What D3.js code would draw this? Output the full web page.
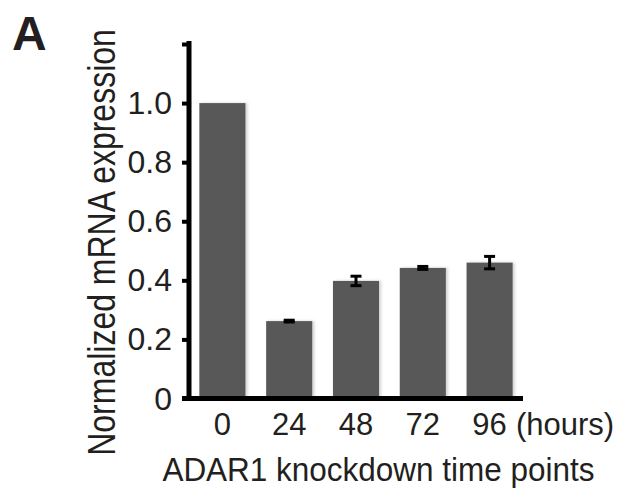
<!DOCTYPE html>
<html>
<head>
<meta charset="utf-8">
<script src="https://cdn.jsdelivr.net/npm/d3@7"></script>
<style>
  html, body { margin: 0; padding: 0; background: #fff; }
  svg text { font-family: "Liberation Sans", Arial, Helvetica, sans-serif; fill: #231f20; }
</style>
</head>
<body>
<div id="chart"></div>
<script>
// --- Data ---
const timePoints = ['0', '24', '48', '72', '96'];
const expression = [1.0, 0.262, 0.398, 0.442, 0.46];
const errors = [0, 0.003, 0.016, 0.005, 0.021];
const yTicks = [0, 0.2, 0.4, 0.6, 0.8, 1.0, 1.2];

const width = 624, height = 490;

const svg = d3.select('#chart').append('svg')
  .attr('width', width)
  .attr('height', height);

// subtle shadow behind bars
const defs = svg.append('defs');
const shadow = defs.append('filter').attr('id', 'bar-shadow')
  .attr('x', '-20%').attr('y', '-5%').attr('width', '140%').attr('height', '110%');
shadow.append('feDropShadow')
  .attr('dx', 2).attr('dy', 0).attr('stdDeviation', 1.5)
  .attr('flood-color', '#000').attr('flood-opacity', 0.18);

// --- Scales ---
const x = d3.scaleBand()
  .domain(timePoints)
  .range([189, 523])
  .paddingInner(0.31)
  .paddingOuter(0.155);

const y = d3.scaleLinear()
  .domain([0, 1.2])
  .range([398.5, 44]);

const data = timePoints.map((t, i) => ({ t, v: expression[i], e: errors[i] }));

// --- Bars ---
svg.append('g').selectAll('rect')
  .data(data)
  .enter().append('rect')
  .attr('x', d => x(d.t))
  .attr('y', d => y(d.v))
  .attr('width', x.bandwidth())
  .attr('height', d => y(0) - y(d.v))
  .attr('fill', '#595959')
  .attr('filter', 'url(#bar-shadow)');

// --- Error bars ---
const err = svg.append('g').selectAll('g')
  .data(data.filter(d => d.e > 0))
  .enter().append('g')
  .attr('stroke', '#000')
  .attr('stroke-width', 3);

err.append('line')
  .attr('x1', d => x(d.t) + x.bandwidth() / 2)
  .attr('x2', d => x(d.t) + x.bandwidth() / 2)
  .attr('y1', d => y(d.v + d.e))
  .attr('y2', d => y(d.v - d.e));

[1, -1].forEach(s => {
  err.append('line')
    .attr('x1', d => x(d.t) + x.bandwidth() / 2 - 5.5)
    .attr('x2', d => x(d.t) + x.bandwidth() / 2 + 5.5)
    .attr('y1', d => y(d.v + s * d.e))
    .attr('y2', d => y(d.v + s * d.e));
});

// --- Y axis ---
const yAxis = d3.axisLeft(y)
  .tickValues(yTicks)
  .tickSize(7)
  .tickPadding(10)
  .tickFormat(d => d === 0 ? '0' : (d >= 1.2 ? '' : d.toFixed(1)));

const gy = svg.append('g')
  .attr('transform', 'translate(189,0)')
  .call(yAxis);
gy.select('.domain')
  .attr('stroke', '#000')
  .attr('stroke-width', 5)
  .attr('d', `M0,${y(1.2) - 3}V${y(0) + 2.5}`);
gy.selectAll('.tick line')
  .attr('stroke', '#000')
  .attr('stroke-width', 4);
gy.selectAll('.tick text')
  .attr('font-size', 32)
  .attr('dy', '0.33em')
  .style('font-family', '"Liberation Sans", Arial, sans-serif')
  .attr('fill', '#231f20');

// --- X axis line ---
svg.append('line')
  .attr('x1', 182)
  .attr('x2', 523)
  .attr('y1', y(0))
  .attr('y2', y(0))
  .attr('stroke', '#000')
  .attr('stroke-width', 5);

// --- X tick labels ---
svg.append('g').selectAll('text')
  .data(timePoints)
  .enter().append('text')
  .attr('x', d => x(d) + x.bandwidth() / 2)
  .attr('y', 435)
  .attr('text-anchor', 'middle')
  .attr('font-size', 31)
  .text(d => d);

svg.append('text')
  .attr('x', 516)
  .attr('y', 435)
  .attr('font-size', 31)
  .text('(hours)');

// --- Axis titles ---
svg.append('text')
  .attr('transform', 'translate(378.5,481) scale(1,1.05)')
  .attr('text-anchor', 'middle')
  .attr('font-size', 31.5)
  .text('ADAR1 knockdown time points');

svg.append('text')
  .attr('transform', 'translate(115,242.5) rotate(-90) scale(1,1.2)')
  .attr('text-anchor', 'middle')
  .attr('font-size', 32)
  .text('Normalized mRNA expression');

// --- Panel letter ---
svg.append('text')
  .attr('x', 12)
  .attr('y', 50)
  .attr('font-size', 48)
  .attr('font-weight', 'bold')
  .text('A');
</script>
</body>
</html>
